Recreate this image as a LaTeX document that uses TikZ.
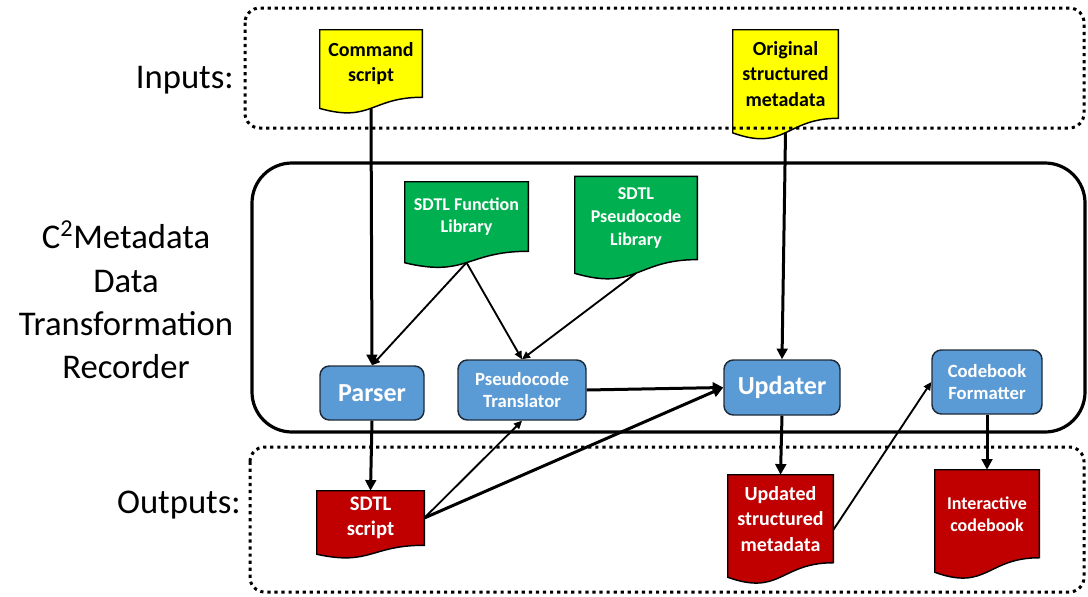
\documentclass[tikz,border=0pt]{standalone}
\usepackage{fontspec}
\setmainfont{Carlito}
\usetikzlibrary{arrows.meta, calc, positioning}

\definecolor{inyellow}{HTML}{FFFF00}
\definecolor{libgreen}{HTML}{00B050}
\definecolor{outred}{HTML}{C00000}
\definecolor{procblue}{HTML}{5B9BD5}
\definecolor{procline}{HTML}{1E2B3A}

\pgfdeclarelayer{background}
\pgfsetlayers{background,main}

\tikzset{
  lbl/.style={font=\fontsize{26}{32.6}\selectfont, inner sep=0pt},
  doc/.style={inner sep=0pt, align=center, font=\bfseries\fontsize{15}{19}\selectfont},
  proc/.style={draw=procline, line width=1.1pt, fill=procblue, rounded corners=7pt, text=white,
    inner sep=0pt, align=center, font=\bfseries\fontsize{14}{16.5}\selectfont},
  dotframe/.style={line width=2.25pt, dash pattern=on 2.4pt off 2.9pt, rounded corners=11pt},
  boldarrow/.style={line width=2.25pt, -{Triangle[length=8pt,width=8pt]}},
  thinarrow/.style={line width=1.4pt, -{Triangle[length=6pt,width=5.5pt]}},
}

% page with wavy bottom behind a doc node (#1 node, #2 fill), wave middle is (#1-w)
\newcommand{\docshape}[2]{%
  \begin{pgfonlayer}{background}
    \draw[line width=1.1pt, fill=#2] let \p1=(#1.north west), \p2=(#1.south east), \n1={\y1-\y2} in
      (\p1) -- (\x2,\y1) -- (\p2)
      .. controls ({(\x1+\x2)/2},\y2) and ({(\x1+\x2)/2},{\y2-0.38*\n1}) .. (\x1,{\y2-0.165*\n1}) -- cycle
      ({(\x1+\x2)/2},{\y2-0.163*\n1}) coordinate (#1-w);
  \end{pgfonlayer}}

\begin{document}
\begin{tikzpicture}[x=0.75pt, y=-0.75pt]
  \useasboundingbox (0,0) rectangle (1088,596);
  % frames
  \draw[dotframe] (245,8) rectangle (1084,128);
  \draw[line width=2.4pt, rounded corners=30pt] (252,163) rectangle (1085,432);
  \draw[dotframe] (250,447) rectangle (1084,592);

  % row labels
  \node[lbl, anchor=east] (inlbl) at (234,80) {Inputs:};
  \node[lbl, align=center] (dtrlbl) at (126,300) {C\textsuperscript{2}Metadata\\Data\\Transformation\\Recorder};
  \node[lbl, anchor=east] (outlbl) at (241,505) {Outputs:};

  % documents
  \node[doc, minimum width=76.5pt, minimum height=50.25pt] (cmd) at (371,63.5) {Command\\script};
  \node[doc, minimum width=78.75pt, minimum height=66pt] (orig) at (785.5,74) {Original\\structured\\metadata};
  \node[doc, text=white, font=\bfseries\fontsize{13.5}{17}\selectfont,
    minimum width=92.25pt, minimum height=51.75pt] (funlib) at (466.5,216.5) {SDTL Function\\Library};
  \node[doc, text=white, font=\bfseries\fontsize{13.5}{17}\selectfont,
    minimum width=91.5pt, minimum height=62pt] (pslib) at (636,218) {SDTL\\Pseudocode\\Library};
  \node[doc, text=white, font=\bfseries\fontsize{15.5}{19}\selectfont,
    minimum width=80.25pt, minimum height=40.5pt] (sdtl) at (370.5,518) {SDTL\\script};
  \node[doc, text=white, minimum width=78.75pt, minimum height=65.6pt] (updmeta) at (780.5,518.75) {Updated\\structured\\metadata};
  \node[doc, text=white, font=\bfseries\fontsize{13.5}{16.5}\selectfont,
    minimum width=78pt, minimum height=65.6pt] (codebook) at (987,513.75) {Interactive\\codebook};
  \foreach \d/\c in {cmd/inyellow, orig/inyellow, funlib/libgreen, pslib/libgreen,
                     sdtl/outred, updmeta/outred, codebook/outred}
    {\docshape{\d}{\c}}

  % programs
  \node[proc, font=\bfseries\fontsize{19.5}{22}\selectfont, minimum width=78pt, minimum height=40.5pt] (parser) at (372,393) {Parser};
  \node[proc, minimum width=96pt, minimum height=45pt] (trans) at (522,390) {Pseudocode\\Translator};
  \node[proc, font=\bfseries\fontsize{19.5}{22}\selectfont, minimum width=87pt, minimum height=41.25pt] (updater) at (782,387.5) {Updater};
  \node[proc, minimum width=82.5pt, minimum height=48pt] (fmt) at (987,382) {Codebook\\Formatter};

  % flows
  \draw[boldarrow] (cmd-w) -- (parser.north);
  \draw[boldarrow] (orig-w) -- (updater.north);
  \draw[thinarrow] (funlib-w) -- (parser.north);
  \draw[thinarrow] (funlib-w) -- (trans.north);
  \draw[thinarrow] (pslib-w) -- (trans.north);
  \draw[boldarrow] (trans.east) -- (updater.west);
  \draw[boldarrow] (parser.south) -- (sdtl.north);
  \draw[thinarrow] (sdtl.east) -- (trans.south);
  \draw[boldarrow] (sdtl.east) -- (updater.west);
  \draw[boldarrow] (updater.south) -- (updmeta.north);
  \draw[thinarrow] (updmeta.-12) -- (fmt.west);
  \draw[boldarrow] (fmt.south) -- (codebook.north);
\end{tikzpicture}
\end{document}
